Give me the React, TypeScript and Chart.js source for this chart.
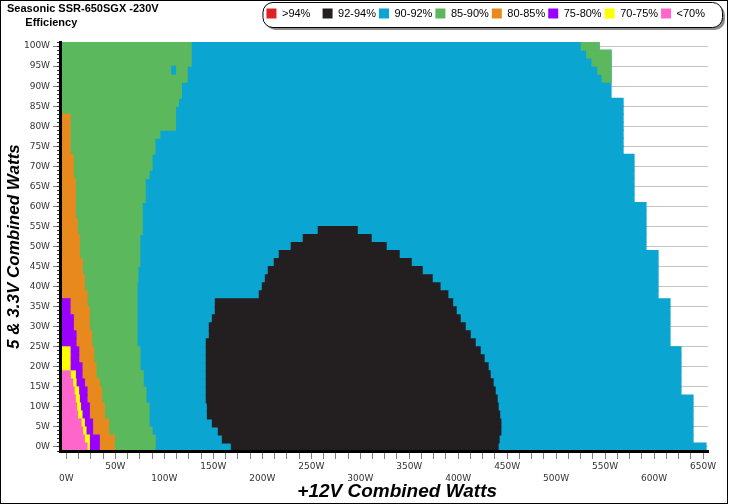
import React, { useEffect, useRef } from 'react';
import { Chart, registerables } from 'chart.js';

Chart.register(...registerables);

// ---------- text ----------
const TITLE_LINES = ['Seasonic SSR-650SGX -230V', '      Efficiency'];
const X_TITLE = '     +12V Combined Watts';
const Y_TITLE = '5 & 3.3V Combined Watts';

// ---------- legend ----------
const LEGEND_LABELS = ['>94%   ', '92-94%', '90-92%', '85-90%', '80-85%', '75-80%', '70-75%', '<70%'];
const LEGEND_COLORS = ['#de2127', '#231f20', '#0ba5d1', '#5cb85c', '#e8891e', '#9a00ff', '#ffff00', '#ff66cc'];

// ---------- axes (watts) ----------
const X_MIN = -6.5;
const X_MAX = 655;
const Y_MIN = -1;
const Y_MAX = 101;

// rows of the efficiency map: 5V & 3.3V combined load (W)
const ROWS_W = [0, 2, 4, 6, 8, 10, 12, 14, 16, 18, 20, 22, 24, 26, 28, 30, 32, 34, 36, 38, 40, 42, 44, 46, 48, 50,
  52, 54, 56, 58, 60, 62, 64, 66, 68, 70, 72, 74, 76, 78, 80, 82, 84, 86, 88, 90, 92, 94, 96, 98, 100];

// +12V load (W) where each efficiency band ends, per row (starting at row 0W)
const BLUE_END = [653.6, 640.3, 640.3, 640.3, 640.3, 640.3, 640.3, 628, 628, 628, 628, 628, 628,
  616.8, 616.8, 616.8, 616.8, 616.8, 616.8, 604.6, 604.6, 604.6, 604.6, 604.6, 604.6,
  592.3, 592.3, 592.3, 592.3, 592.3, 592.3, 580.1, 580.1, 580.1, 580.1, 580.1, 580.1,
  568.9, 568.9, 568.9, 568.9, 568.9, 568.9, 568.9, 556.6, 556.6, 556.6, 556.6, 556.6, 556.6, 544.4];
const GREEN_END = [91.3, 91.3, 88, 85, 85, 85, 81.8, 81.8, 79, 79, 75.7, 75.7, 75.7,
  72.7, 72.7, 72.7, 72.7, 72.7, 72.7, 72.7, 72.7, 73.5, 73.5, 75.5, 75.5, 75.5, 75.5,
  78, 78, 78, 78, 81, 81, 81, 85, 88, 88, 91, 91, 96, 112, 112, 112, 115, 118, 118, 124, 124, 128, 128, 128];
const ORANGE_END = [49.5, 49.5, 43.7, 43.7, 39.3, 39.3, 36.5, 36.5, 34.2, 30.8, 30.8, 28.4, 28.4,
  26.3, 26.3, 24, 24, 24, 21.6, 21.6, 18.9, 18.9, 16.8, 16.8, 13.8, 13.8, 13.8, 11.7, 11.7,
  9.7, 9.7, 9.7, 9.7, 9.7, 7.7, 7.7, 7.7, 4.3, 4.3, 4.3, 4.3, 4.3];
const PURPLE_END = [34.2, 34.2, 27.3, 27.3, 24, 24, 21.6, 21.6, 19, 16.5, 16.5, 13.2, 13.2, 10.4, 10.4, 7.7, 7.7, 4.3, 4.3];
const YELLOW_END = [24, 24, 20.6, 18.9, 16.5, 15, 13.8, 13, 10.4, 9.7, 4.3, 4.3, 4.3];
const PINK_END = [21.6, 18.9, 17.1, 15.5, 12, 11, 9.7, 8.5, 7, 4.6];

// 92-94% island (rows 0W..54W)
const BLACK_START = [167.9, 158.7, 154.6, 148.5, 143.4, 143.4, 142.3, 142.3, 142.3, 142.3, 142.3, 142.3, 142.3, 142.3,
  145.4, 145.4, 148.5, 151.5, 151.5, 196.4, 199.5, 202.6, 205.6, 211.7, 216.8, 229, 241.3, 256.6];
const BLACK_END = [441.3, 442.3, 444.1, 444.1, 442.9, 441.3, 440.3, 438.3, 436.2, 433.2, 431.1, 427, 423, 417.9,
  412.8, 407.7, 402.6, 398.5, 394.9, 390, 382, 374, 363.8, 352.6, 340.3, 327, 311.7, 297.5];

// 85-90% patch at the top right edge
const GREEN2_ROWS = [92, 94, 96, 98, 100];
const GREEN2_START = [546.5, 542, 536, 530.6, 525];
const GREEN2_END = [556.6, 556.6, 556.6, 556.6, 544.4];

// small 90-92% pocket inside the 85-90% band
const POCKET_ROWS = [94];
const POCKET_START = [107];
const POCKET_END = [112];

function layer(starts: number[] | number, ends: number[], rows: number[] = ROWS_W) {
  return ends.map((e, i) => ({ y: rows[i], x: [typeof starts === 'number' ? starts : starts[i], e] }));
}

function ds(label: string, color: string, data: any[], order: number) {
  return {
    label,
    data,
    backgroundColor: color,
    borderWidth: 0,
    grouped: false,
    barPercentage: 1.12,
    categoryPercentage: 1,
    inflateAmount: 0,
    order,
  };
}

const legendFrame = {
  id: 'legendFrame',
  beforeDraw(chart: any) {
    const lg = chart.legend;
    if (!lg || !lg.legendHitBoxes || !lg.legendHitBoxes.length) return;
    const hb = lg.legendHitBoxes;
    const left = hb[0].left - 4;
    const right = lg.right + 14;
    const top = lg.top - 3;
    const bottom = lg.top + 22;
    const ctx = chart.ctx;
    ctx.save();
    ctx.fillStyle = '#8c8c8c';
    ctx.beginPath();
    ctx.roundRect(left + 3, top + 3, right - left, bottom - top, 10);
    ctx.fill();
    ctx.fillStyle = '#ffffff';
    ctx.strokeStyle = '#000000';
    ctx.lineWidth = 1;
    ctx.beginPath();
    ctx.roundRect(left + 0.5, top + 0.5, right - left, bottom - top, 10);
    ctx.fill();
    ctx.stroke();
    ctx.restore();
  },
};

const tickFont = { family: 'DejaVu Sans', size: 9, lineHeight: 1.33 };
const axisTitleFont = { family: 'Liberation Sans', size: 19, weight: 'bold' as const, style: 'italic' as const };

export default function App() {
  const ref = useRef<HTMLCanvasElement>(null);

  useEffect(() => {
    const canvas = ref.current;
    if (!canvas) return;
    const chart = new Chart(canvas, {
      type: 'bar',
      data: {
        datasets: [
          ds('90-92%', LEGEND_COLORS[2], layer(X_MIN, BLUE_END), 10),
          ds('85-90%', LEGEND_COLORS[3], layer(X_MIN, GREEN_END), 9),
          ds('90-92% pocket', LEGEND_COLORS[2], layer(POCKET_START, POCKET_END, POCKET_ROWS), 8),
          ds('80-85%', LEGEND_COLORS[4], layer(X_MIN, ORANGE_END), 7),
          ds('75-80%', LEGEND_COLORS[5], layer(X_MIN, PURPLE_END), 6),
          ds('70-75%', LEGEND_COLORS[6], layer(X_MIN, YELLOW_END), 5),
          ds('<70%', LEGEND_COLORS[7], layer(X_MIN, PINK_END), 4),
          ds('92-94%', LEGEND_COLORS[1], layer(BLACK_START, BLACK_END), 3),
          ds('85-90% edge', LEGEND_COLORS[3], layer(GREEN2_START, GREEN2_END, GREEN2_ROWS), 2),
        ] as any,
      },
      options: {
        indexAxis: 'y',
        responsive: false,
        animation: false,
        devicePixelRatio: 1,
        events: [],
        layout: { padding: { top: 4, left: 6, right: 19, bottom: 0 } },
        plugins: {
          tooltip: { enabled: false },
          title: {
            display: true,
            text: TITLE_LINES,
            align: 'start',
            position: 'top',
            weight: 500,
            color: '#000',
            font: { family: 'Liberation Sans', size: 11, weight: 'bold', lineHeight: 1.3 },
            padding: { top: -27, bottom: 11.5 },
          },
          legend: {
            display: true,
            position: 'top',
            align: 'end',
            weight: 1000,
            labels: {
              boxWidth: 10,
              boxHeight: 10,
              padding: 3,
              color: '#000',
              font: { family: 'Liberation Sans', size: 11 },
              generateLabels: () =>
                LEGEND_LABELS.map((text, i) => ({
                  text,
                  fillStyle: LEGEND_COLORS[i],
                  strokeStyle: LEGEND_COLORS[i],
                  lineWidth: 0,
                  hidden: false,
                  fontColor: '#000',
                  datasetIndex: 0,
                })),
            },
          },
        },
        scales: {
          x: {
            type: 'linear',
            position: 'bottom',
            min: X_MIN,
            max: X_MAX,
            afterFit: (s: any) => { s.height = 52; },
            grid: { drawOnChartArea: false, drawTicks: true, tickLength: 8, tickColor: '#808080', tickWidth: 1 },
            border: { display: true, color: '#000', width: 3, z: 1 },
            ticks: {
              stepSize: 12.5,
              autoSkip: false,
              includeBounds: false,
              maxRotation: 0,
              minRotation: 0,
              padding: 2,
              color: '#333',
              font: tickFont,
              callback: (v: any) => {
                const n = Number(v);
                if (n % 50 !== 0) return '';
                return n % 100 === 0 ? ['', n + 'W'] : [n + 'W', ''];
              },
            },
            title: { display: true, text: X_TITLE, color: '#000', font: axisTitleFont, padding: { top: 0, bottom: 0 } },
          },
          y: {
            type: 'linear',
            position: 'left',
            weight: 1,
            min: Y_MIN,
            max: Y_MAX,
            offset: false,
            afterFit: (s: any) => { s.width = 53; },
            grid: { color: '#c4c4c4', drawOnChartArea: true, offset: false, tickLength: 7, tickColor: '#808080' },
            border: { display: true, color: '#000', width: 3, z: 1 },
            ticks: {
              stepSize: 5,
              autoSkip: false,
              includeBounds: false,
              padding: 3,
              color: '#333',
              font: tickFont,
              callback: (v: any) => Number(v) + 'W',
            },
            title: {
              display: true,
              text: Y_TITLE,
              color: '#000',
              font: { family: 'Liberation Sans', size: 17, weight: 'bold', style: 'italic' },
              padding: { top: -3, bottom: 0 },
            },
          },
          y2: {
            type: 'linear',
            axis: 'y',
            position: 'left',
            weight: 0,
            min: Y_MIN,
            max: Y_MAX,
            offset: false,
            afterFit: (s: any) => { s.width = 0; },
            grid: { drawOnChartArea: false, offset: false, tickLength: 3, tickColor: '#333' },
            border: { display: false },
            ticks: { stepSize: 1, autoSkip: false, includeBounds: false, display: false },
          },
        },
      } as any,
      plugins: [legendFrame],
    });
    return () => chart.destroy();
  }, []);

  return (
    <div
      style={{
        position: 'fixed',
        left: 0,
        top: 0,
        width: 728,
        height: 504,
        border: '1px solid #000',
        boxSizing: 'border-box',
        background: '#fff',
      }}
    >
      <canvas ref={ref} width={726} height={502} style={{ display: 'block', width: 726, height: 502 }} />
    </div>
  );
}
